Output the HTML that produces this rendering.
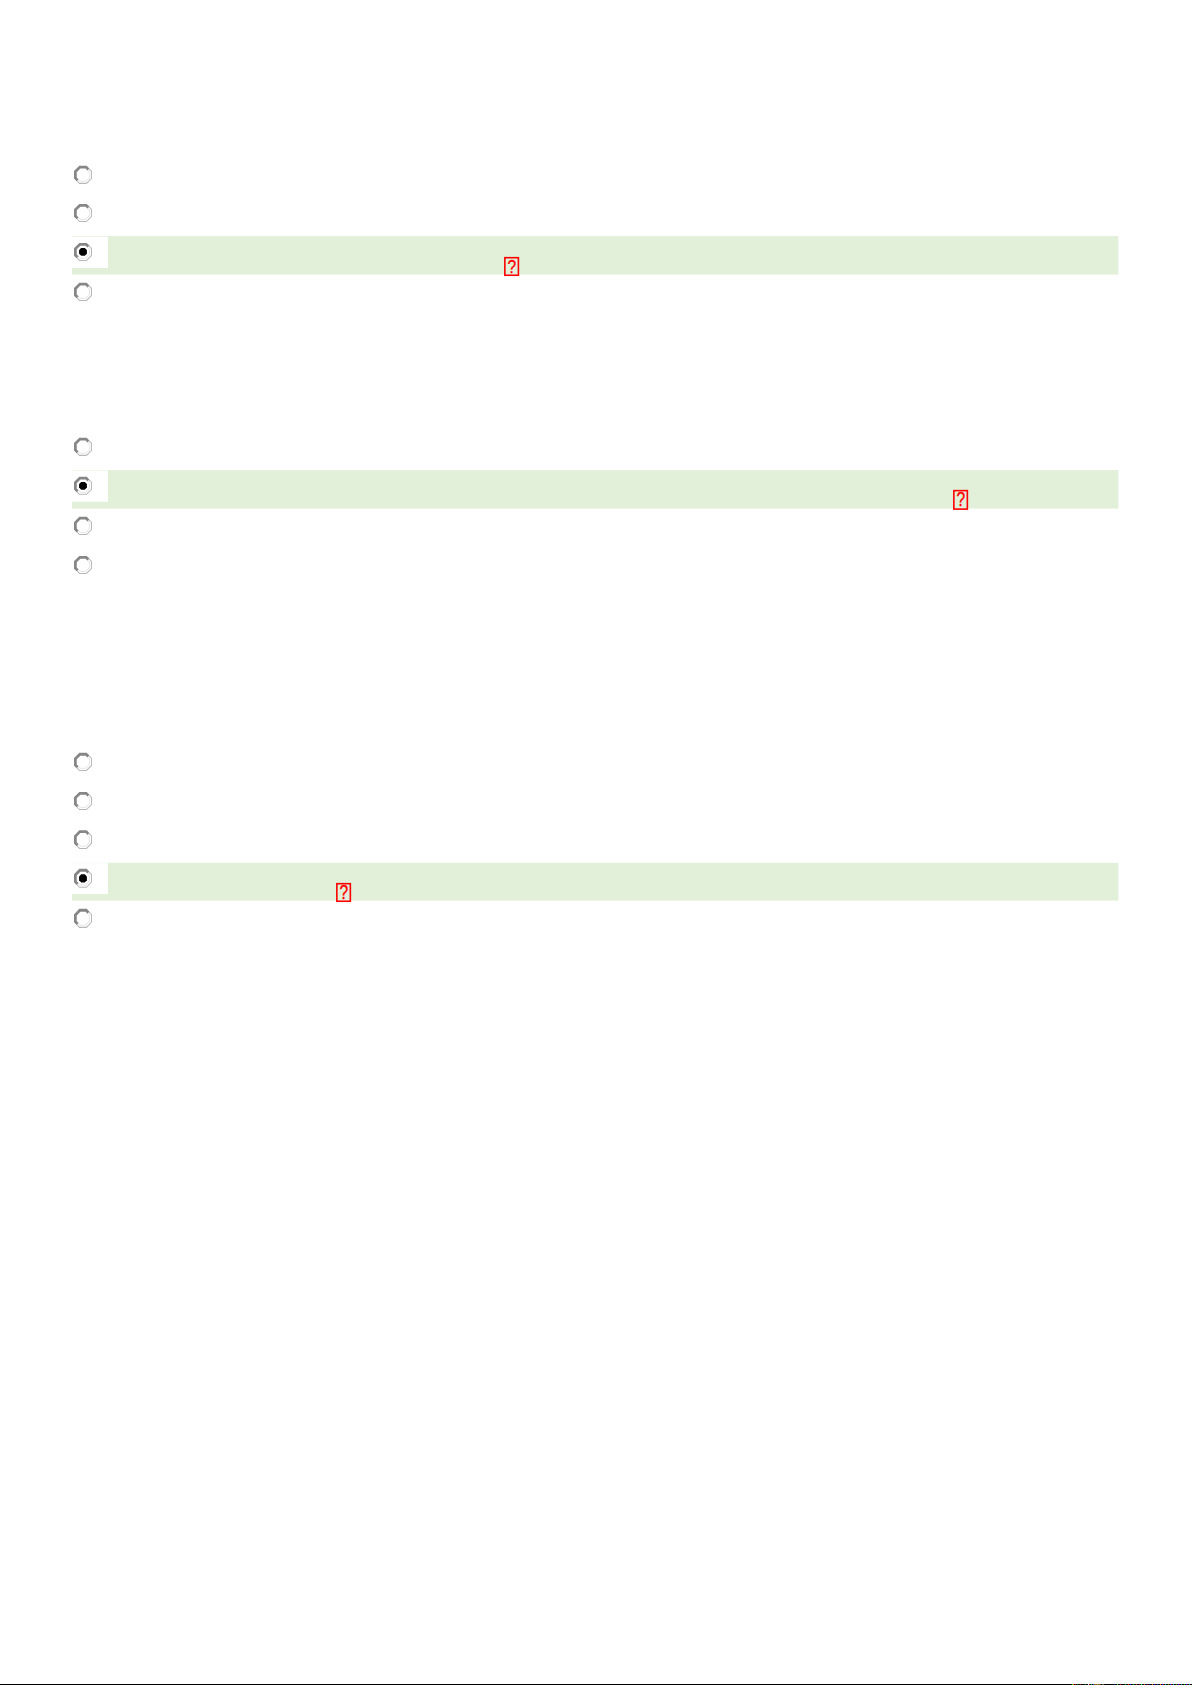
<!DOCTYPE html>
<html lang="en">
<head>
<meta charset="utf-8">
<title>Quiz</title>
<style>
html,body{margin:0;padding:0;background:#ffffff;}
body{width:1192px;height:1685px;overflow:hidden;position:relative;font-family:"Liberation Sans",sans-serif;}
#page{position:absolute;left:0;top:0;width:1192px;height:1685px;display:block;}
.q{fill:#ff0000;stroke:#ff0000;stroke-width:0.35px;font-family:"Liberation Sans",sans-serif;font-size:19px;text-anchor:middle;}
</style>
</head>
<body>
<svg id="page" role="img" aria-label="Quiz page" width="1192" height="1685" viewBox="0 0 1192 1685">
<g class="question" id="q1">
<rect x="72" y="236.12" width="1046.4" height="38.43" fill="#e2efd9"/>
<rect x="71.5" y="236.72" width="36.5" height="31.28" fill="#ffffff"/>
<g class="radio" transform="translate(83 174.85) scale(1 1.003)"><path d="M6.01 -6.01 L8.5 -3.52 L8.5 3.52 L3.52 8.5 L-3.52 8.5 L-6.01 6.01" stroke="#b8b8b8" stroke-width="1" fill="none"/><path d="M4.56 -4.56 L6.45 -2.67 L6.45 2.67 L2.67 6.45 L-2.67 6.45 L-4.56 4.56" stroke="#e8e8e8" stroke-width="1" fill="none"/><path d="M-6.36 6.36 L-9 3.73 L-9 -3.73 L-3.73 -9 L3.73 -9 L6.36 -6.36 L4.42 -4.42 L2.59 -6.25 L-2.59 -6.25 L-6.25 -2.59 L-6.25 2.59 L-4.42 4.42 Z" fill="#868686"/></g>
<g class="radio" transform="translate(83 212.97) scale(1 1.003)"><path d="M6.01 -6.01 L8.5 -3.52 L8.5 3.52 L3.52 8.5 L-3.52 8.5 L-6.01 6.01" stroke="#b8b8b8" stroke-width="1" fill="none"/><path d="M4.56 -4.56 L6.45 -2.67 L6.45 2.67 L2.67 6.45 L-2.67 6.45 L-4.56 4.56" stroke="#e8e8e8" stroke-width="1" fill="none"/><path d="M-6.36 6.36 L-9 3.73 L-9 -3.73 L-3.73 -9 L3.73 -9 L6.36 -6.36 L4.42 -4.42 L2.59 -6.25 L-2.59 -6.25 L-6.25 -2.59 L-6.25 2.59 L-4.42 4.42 Z" fill="#868686"/></g>
<g class="radio on" transform="translate(83 251.92) scale(1 1.003)"><path d="M6.01 -6.01 L8.5 -3.52 L8.5 3.52 L3.52 8.5 L-3.52 8.5 L-6.01 6.01" stroke="#b8b8b8" stroke-width="1" fill="none"/><path d="M4.56 -4.56 L6.45 -2.67 L6.45 2.67 L2.67 6.45 L-2.67 6.45 L-4.56 4.56" stroke="#e8e8e8" stroke-width="1" fill="none"/><path d="M-6.36 6.36 L-9 3.73 L-9 -3.73 L-3.73 -9 L3.73 -9 L6.36 -6.36 L4.42 -4.42 L2.59 -6.25 L-2.59 -6.25 L-6.25 -2.59 L-6.25 2.59 L-4.42 4.42 Z" fill="#868686"/><polygon points="-1.79,-3.9 1.79,-3.9 3.9,-1.79 3.9,1.79 1.79,3.9 -1.79,3.9 -3.9,1.79 -3.9,-1.79" fill="#000"/></g>
<g class="radio" transform="translate(83 291.86) scale(1 1.011)"><path d="M6.01 -6.01 L8.5 -3.52 L8.5 3.52 L3.52 8.5 L-3.52 8.5 L-6.01 6.01" stroke="#b8b8b8" stroke-width="1" fill="none"/><path d="M4.56 -4.56 L6.45 -2.67 L6.45 2.67 L2.67 6.45 L-2.67 6.45 L-4.56 4.56" stroke="#e8e8e8" stroke-width="1" fill="none"/><path d="M-6.36 6.36 L-9 3.73 L-9 -3.73 L-3.73 -9 L3.73 -9 L6.36 -6.36 L4.42 -4.42 L2.59 -6.25 L-2.59 -6.25 L-6.25 -2.59 L-6.25 2.59 L-4.42 4.42 Z" fill="#868686"/></g>
<rect x="504.85" y="257.7" width="13.55" height="17.55" fill="none" stroke="#ff0000" stroke-width="1.6"/>
<text class="q" transform="translate(511.88 272.83) scale(0.82 0.995)">?</text>
</g>
<g class="question" id="q2">
<rect x="72" y="470.12" width="1046.4" height="38.43" fill="#e2efd9"/>
<rect x="71.5" y="470.5" width="36.5" height="31.12" fill="#ffffff"/>
<g class="radio" transform="translate(83 446.85) scale(1 1.003)"><path d="M6.01 -6.01 L8.5 -3.52 L8.5 3.52 L3.52 8.5 L-3.52 8.5 L-6.01 6.01" stroke="#b8b8b8" stroke-width="1" fill="none"/><path d="M4.56 -4.56 L6.45 -2.67 L6.45 2.67 L2.67 6.45 L-2.67 6.45 L-4.56 4.56" stroke="#e8e8e8" stroke-width="1" fill="none"/><path d="M-6.36 6.36 L-9 3.73 L-9 -3.73 L-3.73 -9 L3.73 -9 L6.36 -6.36 L4.42 -4.42 L2.59 -6.25 L-2.59 -6.25 L-6.25 -2.59 L-6.25 2.59 L-4.42 4.42 Z" fill="#868686"/></g>
<g class="radio on" transform="translate(83 485.8) scale(1 1.003)"><path d="M6.01 -6.01 L8.5 -3.52 L8.5 3.52 L3.52 8.5 L-3.52 8.5 L-6.01 6.01" stroke="#b8b8b8" stroke-width="1" fill="none"/><path d="M4.56 -4.56 L6.45 -2.67 L6.45 2.67 L2.67 6.45 L-2.67 6.45 L-4.56 4.56" stroke="#e8e8e8" stroke-width="1" fill="none"/><path d="M-6.36 6.36 L-9 3.73 L-9 -3.73 L-3.73 -9 L3.73 -9 L6.36 -6.36 L4.42 -4.42 L2.59 -6.25 L-2.59 -6.25 L-6.25 -2.59 L-6.25 2.59 L-4.42 4.42 Z" fill="#868686"/><polygon points="-1.79,-3.9 1.79,-3.9 3.9,-1.79 3.9,1.79 1.79,3.9 -1.79,3.9 -3.9,1.79 -3.9,-1.79" fill="#000"/></g>
<g class="radio" transform="translate(83 525.93) scale(1 1.017)"><path d="M6.01 -6.01 L8.5 -3.52 L8.5 3.52 L3.52 8.5 L-3.52 8.5 L-6.01 6.01" stroke="#b8b8b8" stroke-width="1" fill="none"/><path d="M4.56 -4.56 L6.45 -2.67 L6.45 2.67 L2.67 6.45 L-2.67 6.45 L-4.56 4.56" stroke="#e8e8e8" stroke-width="1" fill="none"/><path d="M-6.36 6.36 L-9 3.73 L-9 -3.73 L-3.73 -9 L3.73 -9 L6.36 -6.36 L4.42 -4.42 L2.59 -6.25 L-2.59 -6.25 L-6.25 -2.59 L-6.25 2.59 L-4.42 4.42 Z" fill="#868686"/></g>
<g class="radio" transform="translate(83 564.95) scale(1 1.003)"><path d="M6.01 -6.01 L8.5 -3.52 L8.5 3.52 L3.52 8.5 L-3.52 8.5 L-6.01 6.01" stroke="#b8b8b8" stroke-width="1" fill="none"/><path d="M4.56 -4.56 L6.45 -2.67 L6.45 2.67 L2.67 6.45 L-2.67 6.45 L-4.56 4.56" stroke="#e8e8e8" stroke-width="1" fill="none"/><path d="M-6.36 6.36 L-9 3.73 L-9 -3.73 L-3.73 -9 L3.73 -9 L6.36 -6.36 L4.42 -4.42 L2.59 -6.25 L-2.59 -6.25 L-6.25 -2.59 L-6.25 2.59 L-4.42 4.42 Z" fill="#868686"/></g>
<rect x="953.85" y="490.64" width="13.5" height="18.46" fill="none" stroke="#ff0000" stroke-width="1.6"/>
<text class="q" transform="translate(960.85 506.38) scale(0.82 1.070)">?</text>
</g>
<g class="question" id="q3">
<rect x="72" y="862.8" width="1046.4" height="37.75" fill="#e2efd9"/>
<rect x="71.5" y="863.1" width="36.5" height="30.9" fill="#ffffff"/>
<g class="radio" transform="translate(83 761.9) scale(1 1.003)"><path d="M6.01 -6.01 L8.5 -3.52 L8.5 3.52 L3.52 8.5 L-3.52 8.5 L-6.01 6.01" stroke="#b8b8b8" stroke-width="1" fill="none"/><path d="M4.56 -4.56 L6.45 -2.67 L6.45 2.67 L2.67 6.45 L-2.67 6.45 L-4.56 4.56" stroke="#e8e8e8" stroke-width="1" fill="none"/><path d="M-6.36 6.36 L-9 3.73 L-9 -3.73 L-3.73 -9 L3.73 -9 L6.36 -6.36 L4.42 -4.42 L2.59 -6.25 L-2.59 -6.25 L-6.25 -2.59 L-6.25 2.59 L-4.42 4.42 Z" fill="#868686"/></g>
<g class="radio" transform="translate(83 800.97) scale(1 1.003)"><path d="M6.01 -6.01 L8.5 -3.52 L8.5 3.52 L3.52 8.5 L-3.52 8.5 L-6.01 6.01" stroke="#b8b8b8" stroke-width="1" fill="none"/><path d="M4.56 -4.56 L6.45 -2.67 L6.45 2.67 L2.67 6.45 L-2.67 6.45 L-4.56 4.56" stroke="#e8e8e8" stroke-width="1" fill="none"/><path d="M-6.36 6.36 L-9 3.73 L-9 -3.73 L-3.73 -9 L3.73 -9 L6.36 -6.36 L4.42 -4.42 L2.59 -6.25 L-2.59 -6.25 L-6.25 -2.59 L-6.25 2.59 L-4.42 4.42 Z" fill="#868686"/></g>
<g class="radio" transform="translate(83 839.54) scale(1 1.044)"><path d="M6.01 -6.01 L8.5 -3.52 L8.5 3.52 L3.52 8.5 L-3.52 8.5 L-6.01 6.01" stroke="#b8b8b8" stroke-width="1" fill="none"/><path d="M4.56 -4.56 L6.45 -2.67 L6.45 2.67 L2.67 6.45 L-2.67 6.45 L-4.56 4.56" stroke="#e8e8e8" stroke-width="1" fill="none"/><path d="M-6.36 6.36 L-9 3.73 L-9 -3.73 L-3.73 -9 L3.73 -9 L6.36 -6.36 L4.42 -4.42 L2.59 -6.25 L-2.59 -6.25 L-6.25 -2.59 L-6.25 2.59 L-4.42 4.42 Z" fill="#868686"/></g>
<g class="radio on" transform="translate(83 878.3) scale(1 1.061)"><path d="M6.01 -6.01 L8.5 -3.52 L8.5 3.52 L3.52 8.5 L-3.52 8.5 L-6.01 6.01" stroke="#b8b8b8" stroke-width="1" fill="none"/><path d="M4.56 -4.56 L6.45 -2.67 L6.45 2.67 L2.67 6.45 L-2.67 6.45 L-4.56 4.56" stroke="#e8e8e8" stroke-width="1" fill="none"/><path d="M-6.36 6.36 L-9 3.73 L-9 -3.73 L-3.73 -9 L3.73 -9 L6.36 -6.36 L4.42 -4.42 L2.59 -6.25 L-2.59 -6.25 L-6.25 -2.59 L-6.25 2.59 L-4.42 4.42 Z" fill="#868686"/><polygon points="-1.79,-3.9 1.79,-3.9 3.9,-1.79 3.9,1.79 1.79,3.9 -1.79,3.9 -3.9,1.79 -3.9,-1.79" fill="#000"/></g>
<g class="radio" transform="translate(83 918.35) scale(1 1.064)"><path d="M6.01 -6.01 L8.5 -3.52 L8.5 3.52 L3.52 8.5 L-3.52 8.5 L-6.01 6.01" stroke="#b8b8b8" stroke-width="1" fill="none"/><path d="M4.56 -4.56 L6.45 -2.67 L6.45 2.67 L2.67 6.45 L-2.67 6.45 L-4.56 4.56" stroke="#e8e8e8" stroke-width="1" fill="none"/><path d="M-6.36 6.36 L-9 3.73 L-9 -3.73 L-3.73 -9 L3.73 -9 L6.36 -6.36 L4.42 -4.42 L2.59 -6.25 L-2.59 -6.25 L-6.25 -2.59 L-6.25 2.59 L-4.42 4.42 Z" fill="#868686"/></g>
<rect x="336.85" y="883.7" width="13.5" height="17.54" fill="none" stroke="#ff0000" stroke-width="1.6"/>
<text class="q" transform="translate(343.85 899.13) scale(0.82 1.051)">?</text>
</g>
<rect x="0" y="1684" width="1192" height="1" fill="#000"/>
<rect x="1072" y="1684" width="1" height="1" fill="#00ff00"/><rect x="1073" y="1684" width="1" height="1" fill="#ff0000"/><rect x="1075" y="1684" width="1" height="1" fill="#a00000"/><rect x="1077" y="1684" width="1" height="1" fill="#006000"/><rect x="1080" y="1684" width="1" height="1" fill="#800000"/><rect x="1085" y="1684" width="1" height="1" fill="#006000"/><rect x="1088" y="1684" width="1" height="1" fill="#c0d8ff"/><rect x="1089" y="1684" width="1" height="1" fill="#900000"/><rect x="1091" y="1684" width="1" height="1" fill="#00a040"/><rect x="1093" y="1684" width="1" height="1" fill="#0040c0"/><rect x="1094" y="1684" width="1" height="1" fill="#806000"/><rect x="1095" y="1684" width="1" height="1" fill="#907020"/><rect x="1096" y="1684" width="1" height="1" fill="#806030"/><rect x="1097" y="1684" width="1" height="1" fill="#908020"/><rect x="1098" y="1684" width="1" height="1" fill="#706020"/><rect x="1099" y="1684" width="1" height="1" fill="#805020"/><rect x="1100" y="1684" width="1" height="1" fill="#803030"/><rect x="1102" y="1684" width="1" height="1" fill="#207080"/><rect x="1103" y="1684" width="1" height="1" fill="#805020"/><rect x="1114" y="1684" width="1" height="1" fill="#000080"/><rect x="1117" y="1684" width="1" height="1" fill="#00c030"/><rect x="1120" y="1684" width="1" height="1" fill="#a01000"/><rect x="1125" y="1684" width="1" height="1" fill="#00b020"/><rect x="1128" y="1684" width="1" height="1" fill="#e02000"/><rect x="1130" y="1684" width="1" height="1" fill="#0000e0"/><rect x="1133" y="1684" width="1" height="1" fill="#00a030"/><rect x="1136" y="1684" width="1" height="1" fill="#a04000"/><rect x="1139" y="1684" width="1" height="1" fill="#600000"/><rect x="1141" y="1684" width="1" height="1" fill="#00ff30"/><rect x="1144" y="1684" width="1" height="1" fill="#e05000"/><rect x="1146" y="1684" width="1" height="1" fill="#000080"/><rect x="1147" y="1684" width="1" height="1" fill="#700000"/><rect x="1149" y="1684" width="1" height="1" fill="#000070"/><rect x="1152" y="1684" width="1" height="1" fill="#f06000"/><rect x="1154" y="1684" width="1" height="1" fill="#0000c0"/><rect x="1155" y="1684" width="1" height="1" fill="#600000"/><rect x="1157" y="1684" width="1" height="1" fill="#003080"/><rect x="1160" y="1684" width="1" height="1" fill="#ff6000"/><rect x="1162" y="1684" width="1" height="1" fill="#0000ff"/><rect x="1163" y="1684" width="1" height="1" fill="#a00000"/><rect x="1165" y="1684" width="1" height="1" fill="#00a090"/><rect x="1168" y="1684" width="1" height="1" fill="#608000"/><rect x="1170" y="1684" width="1" height="1" fill="#0000ff"/><rect x="1171" y="1684" width="1" height="1" fill="#a00000"/><rect x="1173" y="1684" width="1" height="1" fill="#009090"/><rect x="1176" y="1684" width="1" height="1" fill="#409000"/><rect x="1178" y="1684" width="1" height="1" fill="#0000e0"/><rect x="1179" y="1684" width="1" height="1" fill="#a00000"/><rect x="1181" y="1684" width="1" height="1" fill="#0080a0"/><rect x="1184" y="1684" width="1" height="1" fill="#00a000"/><rect x="1186" y="1684" width="1" height="1" fill="#0000e0"/><rect x="1187" y="1684" width="1" height="1" fill="#a00000"/><rect x="1189" y="1684" width="1" height="1" fill="#0090a0"/>
</svg>
</body>
</html>
